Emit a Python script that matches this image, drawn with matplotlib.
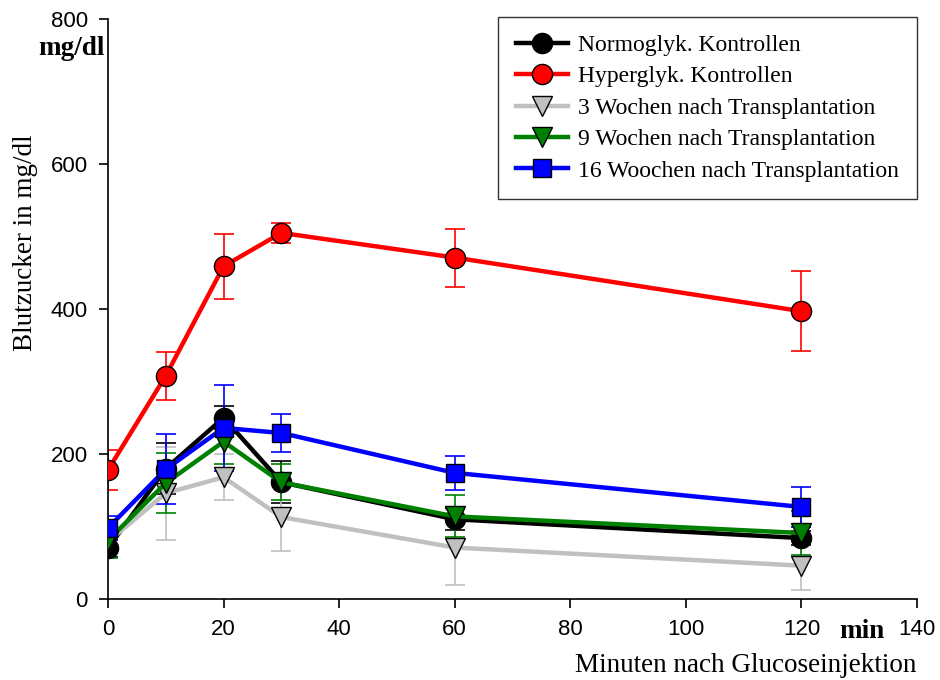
import matplotlib
matplotlib.use("Agg")
import matplotlib.pyplot as plt
from matplotlib.lines import Line2D

minutes = [0, 10, 20, 30, 60, 120]

normo = [70, 180, 250, 161, 110, 84]
normo_err = [12, 35, 16, 29, 15, 10]

hyper = [178, 308, 459, 505, 471, 397]
hyper_err = [27, 33, 45, 14, 40, 55]

wk3 = [79, 146, 168, 113, 71, 46]
wk3_err = [12, 64, 32, 47, 52, 33]

wk9 = [81, 160, 217, 161, 114, 91]
wk9_err = [24, 41, 31, 25, 29, 30]

wk16 = [98, 179, 236, 229, 174, 127]
wk16_err = [16, 48, 59, 26, 23, 27]

labels = ["Normoglyk. Kontrollen", "Hyperglyk. Kontrollen",
          "3 Wochen nach Transplantation", "9 Wochen nach Transplantation",
          "16 Woochen nach Transplantation"]

x_ticks = [0, 20, 40, 60, 80, 100, 120, 140]
y_ticks = [0, 200, 400, 600, 800]

series = [
    (normo, normo_err, "black", "o", "black"),
    (hyper, hyper_err, "red", "o", "red"),
    (wk3, wk3_err, "#c0c0c0", "v", "#c0c0c0"),
    (wk9, wk9_err, "green", "v", "green"),
    (wk16, wk16_err, "blue", "s", "blue"),
]

serif = "Liberation Serif"
sans = "Liberation Sans"

fig = plt.figure(figsize=(9.4, 6.8), dpi=100)
ax = fig.add_axes([0.1149, 0.1191, 0.8606, 0.8529])

handles = []
for (vals, err, col, mk, ecol), lab in zip(series, labels):
    ax.errorbar(minutes, vals, yerr=err, fmt="none", ecolor=ecol,
                elinewidth=1.2, capsize=7, capthick=1.2, zorder=2)
    ms = 14.5 if mk != "s" else 13
    ax.plot(minutes, vals, color=col, lw=3.2, marker=mk, markersize=ms,
            markerfacecolor=col, markeredgecolor="black", markeredgewidth=1,
            zorder=3)
    handles.append(Line2D([], [], color=col, lw=3.2, marker=mk, markersize=ms,
                          markerfacecolor=col, markeredgecolor="black",
                          markeredgewidth=1))

ax.set_xlim(0, 140)
ax.set_ylim(0, 800)
ax.set_xticks(x_ticks)
ax.set_yticks(y_ticks)
ax.spines["top"].set_visible(False)
ax.spines["right"].set_visible(False)
for s in ("left", "bottom"):
    ax.spines[s].set_linewidth(1.2)
ax.tick_params(direction="out", length=6.5, width=1.2, labelsize=16, pad=8)
for t in ax.get_xticklabels() + ax.get_yticklabels():
    t.set_fontfamily(sans)

fig.text(0.027, 0.643, "Blutzucker in mg/dl", rotation=90, ha="center",
         va="center", fontsize=19.5, fontfamily=serif)
fig.text(0.0765, 0.929, "mg/dl", ha="center", va="center", fontsize=19.5,
         fontweight="bold", fontfamily=serif)
fig.text(0.917, 0.071, "min", ha="center", va="center", fontsize=19.5,
         fontweight="bold", fontfamily=serif)
fig.text(0.793, 0.022, "Minuten nach Glucoseinjektion", ha="center",
         va="center", fontsize=19.5, fontfamily=serif)

leg = ax.legend(handles, labels, loc="upper right", bbox_to_anchor=(1.0, 1.004),
                prop={"family": serif, "size": 17}, frameon=True, fancybox=False,
                edgecolor="black", handlelength=2.2, handletextpad=0.45,
                borderpad=0.75, labelspacing=0.42, borderaxespad=0)
leg.get_frame().set_linewidth(1.0)

fig.savefig("out.png", dpi=100)
